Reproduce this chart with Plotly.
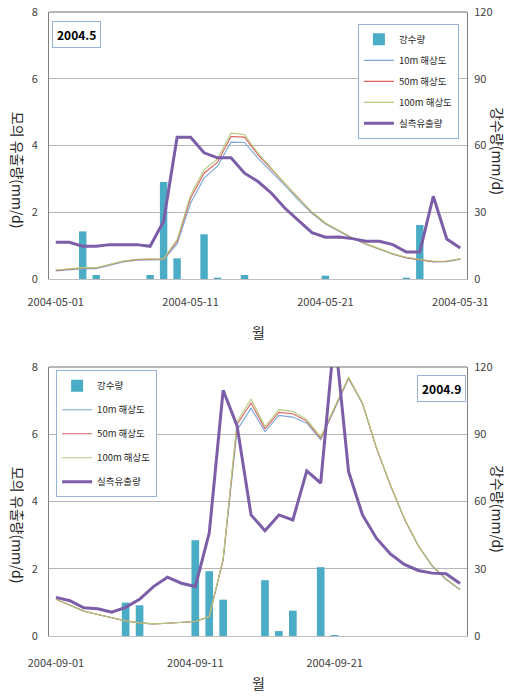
import pandas as pd
import plotly.graph_objects as go

# ---------------- data ----------------
dates_may = pd.date_range("2004-05-01", periods=31, freq="D")
dates_sep = pd.date_range("2004-09-01", periods=30, freq="D")

rain_may = [0, 0, 21.4, 1.8, 0, 0, 0, 1.8, 43.6, 9.3, 0, 20.1, 0.6, 0, 1.8, 0,
            0, 0, 0, 0, 1.5, 0, 0, 0, 0, 0, 0.6, 24.3, 0, 0, 0]
obs_may = [1.10, 1.10, 0.98, 0.98, 1.03, 1.03, 1.03, 0.98, 1.73, 4.25, 4.25, 3.78,
           3.63, 3.63, 3.17, 2.92, 2.57, 2.12, 1.75, 1.39, 1.25, 1.26, 1.21, 1.13,
           1.13, 1.03, 0.81, 0.81, 2.48, 1.20, 0.93]
sim100_may = [0.27, 0.31, 0.34, 0.34, 0.44, 0.54, 0.59, 0.61, 0.61, 1.18, 2.52, 3.27,
              3.60, 4.37, 4.33, 3.77, 3.32, 2.87, 2.41, 2.01, 1.68, 1.45, 1.24, 1.06,
              0.90, 0.76, 0.65, 0.58, 0.53, 0.54, 0.61]
sim50_may = [0.26, 0.30, 0.33, 0.33, 0.43, 0.53, 0.58, 0.60, 0.60, 1.13, 2.42, 3.17,
             3.50, 4.27, 4.25, 3.72, 3.29, 2.85, 2.40, 2.00, 1.67, 1.44, 1.23, 1.05,
             0.89, 0.75, 0.64, 0.57, 0.52, 0.53, 0.60]
sim10_may = [0.24, 0.28, 0.31, 0.31, 0.41, 0.51, 0.56, 0.58, 0.58, 1.05, 2.27, 3.02,
             3.38, 4.10, 4.09, 3.62, 3.22, 2.80, 2.36, 1.97, 1.65, 1.42, 1.21, 1.04,
             0.88, 0.74, 0.63, 0.56, 0.51, 0.52, 0.59]

rain_sep = [0, 0, 0, 0, 0, 14.9, 13.7, 0, 0, 0, 42.7, 28.9, 16.2, 0, 0, 24.9,
            2.2, 11.3, 0, 30.7, 0.45, 0, 0, 0, 0, 0, 0, 0, 0, 0]
obs_sep = [1.15, 1.05, 0.84, 0.81, 0.71, 0.85, 1.09, 1.47, 1.75, 1.57, 1.47, 3.06,
           7.31, 6.25, 3.60, 3.13, 3.60, 3.45, 4.91, 4.55, 9.0, 4.89, 3.60, 2.91,
           2.44, 2.13, 1.95, 1.87, 1.85, 1.56]
sim100_sep = [1.09, 0.92, 0.74, 0.64, 0.54, 0.45, 0.39, 0.36, 0.38, 0.41, 0.43, 0.58,
              2.31, 6.38, 7.05, 6.23, 6.73, 6.68, 6.43, 5.92, 6.80, 7.70, 6.93, 5.60,
              4.50, 3.50, 2.70, 2.10, 1.70, 1.39]
sim50_sep = [1.09, 0.92, 0.74, 0.64, 0.54, 0.45, 0.39, 0.36, 0.38, 0.41, 0.43, 0.58,
             2.28, 6.30, 6.93, 6.16, 6.65, 6.61, 6.39, 5.88, 6.78, 7.68, 6.92, 5.59,
             4.49, 3.49, 2.69, 2.09, 1.69, 1.38]
sim10_sep = [1.09, 0.92, 0.74, 0.64, 0.54, 0.45, 0.39, 0.36, 0.38, 0.41, 0.43, 0.58,
             2.25, 6.13, 6.77, 6.08, 6.56, 6.51, 6.33, 5.84, 6.75, 7.66, 6.90, 5.58,
             4.48, 3.48, 2.68, 2.08, 1.68, 1.37]

names = ["강수량", "10m 해상도", "50m 해상도", "100m 해상도", "실측유출량"]
year_labels = ["2004.5", "2004.9"]

# ---------------- styles ----------------
FONT = "Noto Sans CJK KR, Malgun Gothic, sans-serif"
C_RAIN = "#4bacc6"
C_10 = "#7ea6d8"
C_50 = "#d9605c"
C_100 = "#b3cc7c"
C_OBS = "#7b5ea7"
BOXC = "#95b3d7"
DAY_MS = 86400000

fig = go.Figure()


def add_panel(dates, rain, s10, s50, s100, obs, xa, ya_rain, ya_flow, leg):
    fig.add_trace(go.Bar(x=dates, y=rain, name=names[0], marker_color=C_RAIN,
                         marker_line_width=0, width=0.55 * DAY_MS,
                         xaxis=xa, yaxis=ya_rain, legend=leg, legendgroup=leg + "a"))
    for vals, nm, col, w, g in [(s10, names[1], C_10, 1.1, "b"),
                                (s50, names[2], C_50, 1.1, "c"),
                                (s100, names[3], C_100, 1.1, "d"),
                                (obs, names[4], C_OBS, 3, "e")]:
        fig.add_trace(go.Scatter(x=dates, y=vals, name=nm, mode="lines",
                                 line=dict(color=col, width=w),
                                 xaxis=xa, yaxis=ya_flow, legend=leg,
                                 legendgroup=leg + g))


add_panel(dates_may, rain_may, sim10_may, sim50_may, sim100_may, obs_may,
          "x", "y", "y2", "legend")
add_panel(dates_sep, rain_sep, sim10_sep, sim50_sep, sim100_sep, obs_sep,
          "x2", "y3", "y4", "legend2")

TOP_DOM = [0.5721, 1.0]
BOT_DOM = [0.0, 0.4311]

tickfont = dict(family=FONT, size=11, color="#404040")

xcommon = dict(type="date", tickformat="%Y-%m-%d", dtick=10 * DAY_MS,
               showgrid=False, showline=True, linecolor="#bfbfbf", linewidth=1,
               ticks="outside", tickcolor="rgba(0,0,0,0)",
               tickfont=tickfont, zeroline=False, automargin=False,
               ticklabeloverflow="allow")
rain_common = dict(side="right", range=[0, 120], dtick=30, showgrid=True,
                   gridcolor="#b5b5b5", gridwidth=1.3, showline=True,
                   mirror=True, linecolor="#7f7f7f", linewidth=1,
                   ticks="outside", ticklen=4, tickcolor="rgba(0,0,0,0)",
                   tickfont=tickfont, zeroline=False, automargin=False,
                   ticklabeloverflow="allow")
flow_common = dict(side="left", range=[0, 8], dtick=2, showgrid=False,
                   showline=False, ticks="outside", ticklen=8,
                   tickcolor="rgba(0,0,0,0)", tickfont=tickfont, zeroline=False,
                   automargin=False, ticklabeloverflow="allow")

fig.update_layout(
    width=507, height=699, autosize=False,
    margin=dict(l=49, r=40, t=12, b=63),
    paper_bgcolor="white", plot_bgcolor="white",
    font=dict(family=FONT, color="#262626"),
    bargap=0.45,
    xaxis=dict(domain=[0, 1], anchor="y", ticklen=13,
               range=["2004-04-30 12:00", "2004-05-31 12:00"],
               tick0="2004-05-01", **xcommon),
    yaxis=dict(domain=TOP_DOM, anchor="x", **rain_common),
    yaxis2=dict(overlaying="y", anchor="x", **flow_common),
    xaxis2=dict(domain=[0, 1], anchor="y3", ticklen=17,
                range=["2004-08-31 12:00", "2004-09-30 12:00"],
                tick0="2004-09-01", **xcommon),
    yaxis3=dict(domain=BOT_DOM, anchor="x2", **rain_common),
    yaxis4=dict(overlaying="y3", anchor="x2", **flow_common),
    legend=dict(x=0.739, y=0.981, xanchor="left", yanchor="top",
                bgcolor="white", bordercolor=BOXC, borderwidth=1,
                font=dict(family=FONT, size=9.5, color="#262626"),
                tracegroupgap=2, itemwidth=30),
    legend2=dict(x=0.017, y=0.426, xanchor="left", yanchor="top",
                 bgcolor="white", bordercolor=BOXC, borderwidth=1,
                 font=dict(family=FONT, size=9.5, color="#262626"),
                 tracegroupgap=5, itemwidth=30),
    showlegend=True,
)

# top border lines of plot areas
for xr, yr in [("x domain", "y domain"), ("x2 domain", "y3 domain")]:
    fig.add_shape(type="line", xref=xr, yref=yr, x0=0, x1=1, y0=1, y1=1,
                  line=dict(color="#6f6f6f", width=1))

title_font = dict(family=FONT, size=14, color="#262626")
ann = [
    dict(text="모의 유출량(mm/d)", x=-0.074, y=0.747, textangle=90),
    dict(text="모의 유출량(mm/d)", x=-0.074, y=0.178, textangle=90),
    dict(text="강수량(mm/d)", x=1.074, y=0.777, textangle=90),
    dict(text="강수량(mm/d)", x=1.074, y=0.2035, textangle=90),
    dict(text="월", x=0.5, y=0.487, textangle=0),
    dict(text="월", x=0.5, y=-0.075, textangle=0),
]
for a in ann:
    fig.add_annotation(xref="paper", yref="paper", showarrow=False,
                       xanchor="center", yanchor="middle", font=title_font, **a)

fig.add_annotation(xref="paper", yref="paper", x=0.0646, y=0.964,
                   text="<b>" + year_labels[0] + "</b>", showarrow=False,
                   xanchor="center", yanchor="middle",
                   font=dict(family=FONT, size=12, color="#000"),
                   bgcolor="white", bordercolor=BOXC, borderwidth=1, borderpad=4)
fig.add_annotation(xref="paper", yref="paper", x=0.938, y=0.397,
                   text="<b>" + year_labels[1] + "</b>", showarrow=False,
                   xanchor="center", yanchor="middle",
                   font=dict(family=FONT, size=12, color="#000"),
                   bgcolor="white", bordercolor=BOXC, borderwidth=1, borderpad=4)

# remove the default page margin so the figure fills the window exactly
fig.write_html("out.html", config={"displayModeBar": False},
               post_script="document.body.style.margin='0px';")
